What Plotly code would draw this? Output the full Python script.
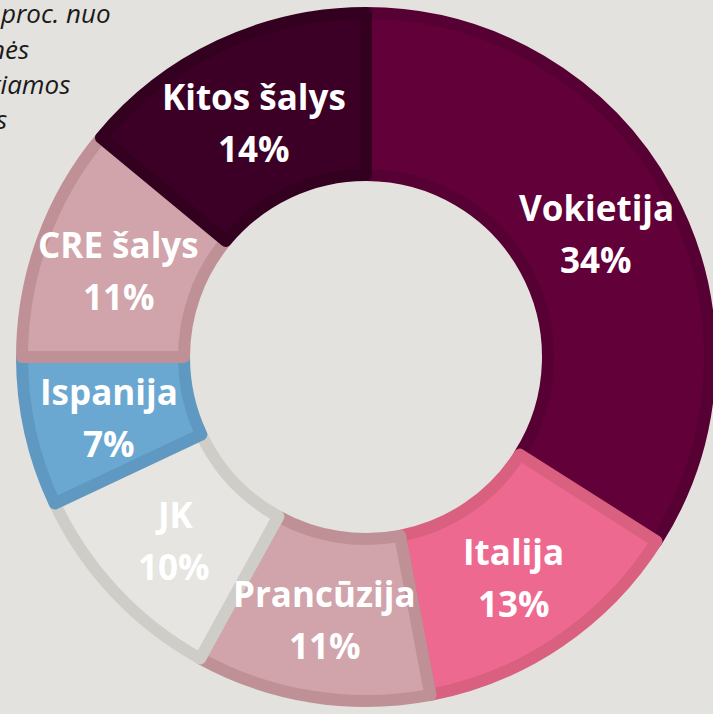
import numpy as np
import plotly.graph_objects as go

# Data
countries = ["Vokietija", "Italija", "Prancūzija", "JK", "Ispanija", "CRE šalys", "Kitos šalys"]
shares = [34, 13, 11, 10, 7, 11, 14]
note_lines = ["proc. nuo", "nės", "tiamos", "s"]

fill_colors = ["#610039", "#ee6990", "#d0a4aa", "#e6e5e1", "#6aa8d2", "#d0a4aa", "#3c0026"]
line_colors = ["#570033", "#d9607f", "#bf9197", "#cfcdc8", "#5f98c0", "#bf9197", "#33001f"]

W, H = 713, 714
cx, cy = 366, 357          # pie centre in px (from top-left)
r_vis = 350                # visible outer radius
r_hole_vis = 176
lw = 12
r = r_vis - lw / 2

fig = go.Figure(
    go.Pie(
        labels=countries,
        values=shares,
        sort=False,
        direction="clockwise",
        rotation=0,
        hole=(r_hole_vis + lw / 2) / r,
        marker=dict(colors=fill_colors, line=dict(color=line_colors, width=lw)),
        textinfo="none",
        hoverinfo="skip",
        showlegend=False,
        domain=dict(
            x=[(cx - r) / W, min(1, (cx + r) / W)],
            y=[(H - cy - r) / H, (H - cy + r) / H],
        ),
    )
)

# slice labels placed at the middle angle of each slice, mid-ring
vals = np.array(shares, dtype=float)
cum = np.cumsum(vals) - vals / 2
theta = 2 * np.pi * cum / vals.sum()
r_mid = (r_vis + r_hole_vis) / 2
for name, v, th in zip(countries, shares, theta):
    px = cx + r_mid * np.sin(th)
    py = cy - r_mid * np.cos(th) + 3
    for txt, off in ((name, -26), (f"{v}%", 26)):
        fig.add_annotation(
            text=txt, xref="paper", yref="paper",
            x=px / W, y=1 - (py + off) / H, xanchor="center", yanchor="middle",
            showarrow=False,
            font=dict(family="Open Sans", size=35, color="white", weight="bold"),
        )

# note text (cut off at the left edge in the original)
ends_x = [113, 31, 72, 9]
mid_y = [13, 49, 84, 119]
for txt, ex, my in zip(note_lines, ends_x, mid_y):
    fig.add_annotation(
        text=txt, xref="paper", yref="paper",
        x=ex / W, y=1 - my / H, xanchor="right", yanchor="middle",
        showarrow=False, align="right",
        font=dict(family="Open Sans", size=26, color="#1a1a1a", style="italic"),
    )

fig.update_layout(
    width=W, height=H,
    margin=dict(l=0, r=0, t=0, b=0),
    paper_bgcolor="#e3e2de",
    plot_bgcolor="#e3e2de",
)

fig.write_html(
    "out.html",
    config={"displayModeBar": False},
    post_script="document.body.style.margin='0';document.body.style.overflow='hidden';"
                "document.body.style.background='#e3e2de';",
)
